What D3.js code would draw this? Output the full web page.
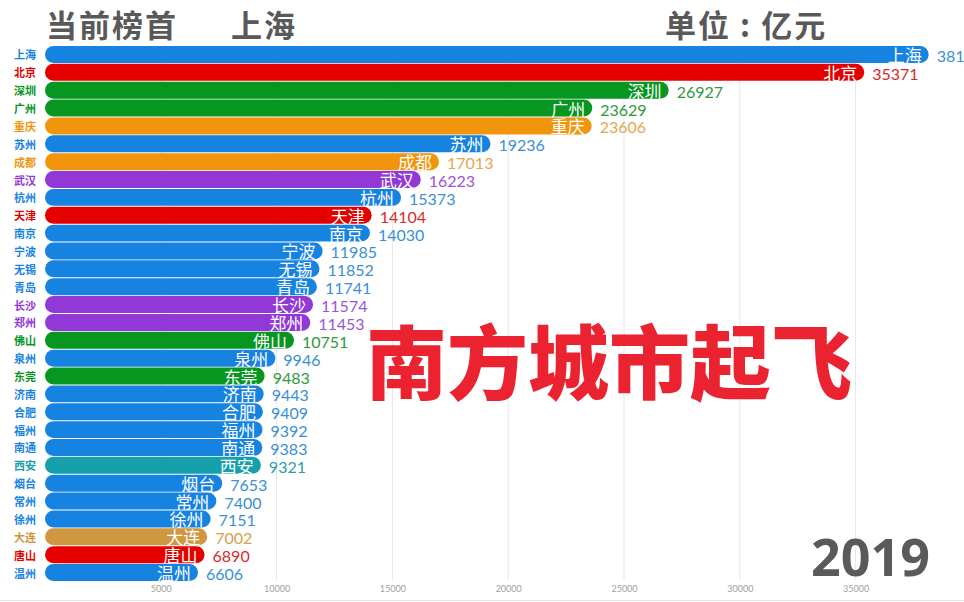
<!DOCTYPE html>
<html>
<head>
<meta charset="utf-8">
<script src="https://cdn.jsdelivr.net/npm/d3@7"></script>
<style>
  html, body { margin: 0; padding: 0; background: #fff; }
  svg { display: block; font-family: "Noto Sans CJK SC", "Noto Sans", sans-serif; }
</style>
</head>
<body>
<script>
(function() {
    'use strict';

    // 2019 GDP (亿元)
    var cities = ["上海", "北京", "深圳", "广州", "重庆", "苏州", "成都", "武汉", "杭州", "天津",
                  "南京", "宁波", "无锡", "青岛", "长沙", "郑州", "佛山", "泉州", "东莞", "济南",
                  "合肥", "福州", "南通", "西安", "烟台", "常州", "徐州", "大连", "唐山", "温州"];
    var values = [38155, 35371, 26927, 23629, 23606, 19236, 17013, 16223, 15373, 14104,
                  14030, 11985, 11852, 11741, 11574, 11453, 10751, 9946, 9483, 9443,
                  9409, 9392, 9383, 9321, 7653, 7400, 7151, 7002, 6890, 6606];
    var regions = ["east", "north", "south", "south", "west", "east", "west", "central", "east", "north",
                   "east", "east", "east", "east", "central", "central", "south", "east", "south", "east",
                   "east", "east", "east", "northwest", "east", "east", "east", "northeast", "north", "east"];
    var tickValues = [5000, 10000, 15000, 20000, 25000, 30000, 35000];
    var year = "2019";
    var leader = "上海";

    // 颜色
    var barColor = {
        east: "#1783e1", north: "#e50000", south: "#07961f", west: "#f0950c",
        central: "#9138d6", northwest: "#16a0ac", northeast: "#cf9840"
    };
    var textColor = {
        east: "#3a8fd6", north: "#d62a2a", south: "#2e9a3e", west: "#e6a650",
        central: "#9a55d6", northwest: "#2aa0a8", northeast: "#d6a04e"
    };

    var w = 964, h = 602;
    var data = cities.map(function(c, i) {
        return { city: c, value: values[i], region: regions[i] };
    });

    var svg = d3.select("body").append("svg")
                .attr("width", w)
                .attr("height", h);

    var x = d3.scaleLinear().domain([0, 35000]).range([45, 855.6]);
    var y = d3.scaleBand().domain(cities).range([46, 581]).paddingInner(0.05);

    // 网格线
    svg.append("g").selectAll("line")
       .data(tickValues)
       .enter().append("line")
       .attr("x1", function(d) { return x(d); })
       .attr("x2", function(d) { return x(d); })
       .attr("y1", 46)
       .attr("y2", 580)
       .attr("stroke", "#e6e6e6")
       .attr("stroke-width", 1);

    // 坐标轴
    var axis = svg.append("g")
                  .attr("transform", "translate(0,584)")
                  .call(d3.axisBottom(x).tickValues(tickValues).tickFormat(d3.format("d"))
                          .tickSize(0).tickPadding(2));
    axis.select(".domain").remove();
    axis.selectAll("text")
        .attr("fill", "#a0a0a0")
        .style("font-size", "9px")
        .style("font-family", "Lato, 'Noto Sans', sans-serif");

    // 底部边线
    svg.append("line")
       .attr("x1", 0).attr("x2", w).attr("y1", 600.5).attr("y2", 600.5)
       .attr("stroke", "#e4e4e4");

    // 大字
    svg.append("text")
       .attr("x", 366)
       .attr("y", 357)
       .attr("dominant-baseline", "central")
       .attr("fill", "#eb2330")
       .style("font-size", "81px")
       .style("font-weight", 900)
       .text("南方城市起飞");

    var bars = svg.append("g").selectAll("g")
                  .data(data)
                  .enter().append("g");

    bars.append("rect")
        .attr("x", x(0))
        .attr("y", function(d) { return y(d.city); })
        .attr("width", function(d) { return x(d.value) - x(0); })
        .attr("height", y.bandwidth())
        .attr("rx", y.bandwidth() / 2)
        .attr("fill", function(d) { return barColor[d.region]; });

    bars.append("text")
        .attr("x", function(d) { return x(d.value) - 7; })
        .attr("y", function(d) { return y(d.city) + y.bandwidth() / 2; })
        .attr("dominant-baseline", "central")
        .attr("text-anchor", "end")
        .attr("fill", "#fff")
        .style("font-size", "17px")
        .text(function(d) { return d.city; });

    bars.append("text")
        .attr("x", function(d) { return x(d.value) + 8; })
        .attr("y", function(d) { return y(d.city) + y.bandwidth() / 2 + 1; })
        .attr("dominant-baseline", "central")
        .attr("fill", function(d) { return textColor[d.region]; })
        .style("font-size", "16px")
        .style("font-family", "Lato, 'Noto Sans', sans-serif")
        .text(function(d) { return d.value; });

    // 左侧城市名
    bars.append("text")
        .attr("x", 36)
        .attr("y", function(d) { return y(d.city) + y.bandwidth() / 2; })
        .attr("dominant-baseline", "central")
        .attr("text-anchor", "end")
        .attr("fill", function(d) { return barColor[d.region]; })
        .style("font-size", "11px")
        .style("font-weight", 700)
        .text(function(d) { return d.city; });

    // 标题
    function title(tx, t) {
        svg.append("text")
           .attr("x", tx).attr("y", 37)
           .attr("fill", "#595959")
           .style("font-size", "31px")
           .style("font-weight", 700)
           .style("letter-spacing", "2px")
           .text(t);
    }
    title(46, "当前榜首");
    title(231, leader);
    title(665, "单位 : 亿元");

    svg.append("text")
       .attr("x", 930).attr("y", 576)
       .attr("text-anchor", "end")
       .attr("fill", "#5a5a5a")
       .style("font-size", "52px")
       .style("font-weight", 700)
       .style("font-family", "'Open Sans', 'Noto Sans', sans-serif")
       .text(year);
}());
</script>
</body>
</html>
